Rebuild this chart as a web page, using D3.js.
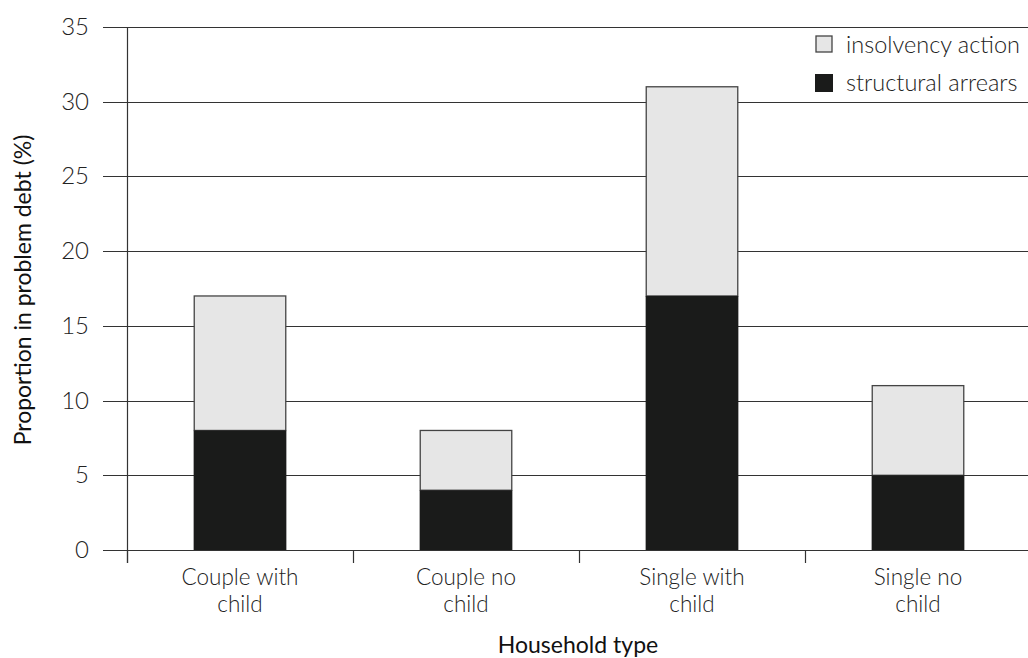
<!DOCTYPE html>
<html><head><meta charset="utf-8">
<script src="https://cdn.jsdelivr.net/npm/d3@7"></script>
<style>body{margin:0;background:#fff}svg{display:block}</style>
</head><body>
<svg id="c" width="1028" height="658"></svg>
<script>
const categories = [["Couple with","child"],["Couple no","child"],["Single with","child"],["Single no","child"]];
const structuralArrears = [8, 4, 17, 5];
const insolvencyAction = [9, 4, 14, 6];
const yTicks = [0,5,10,15,20,25,30,35];
const seriesNames = ["insolvency action","structural arrears"];

const svg = d3.select("#c");
const font = "Lato, 'Open Sans', sans-serif";
const x0 = 127, y0 = 550, yTop = 27;
const x = d3.scaleBand().domain(d3.range(categories.length)).range([x0, x0 + 4*226]).paddingInner(0).paddingOuter(0);
const y = d3.scaleLinear().domain([0,35]).range([y0, yTop]);

// gridlines
svg.append("g").selectAll("line").data(yTicks).join("line")
  .attr("x1", 103).attr("x2", 1028)
  .attr("y1", d => Math.round(y(d))+0.5).attr("y2", d => Math.round(y(d))+0.5)
  .attr("stroke", "#333").attr("stroke-width", 1.2);
// y tick labels
svg.append("g").selectAll("text").data(yTicks).join("text")
  .attr("x", 89).attr("y", d => y(d) + 8).attr("text-anchor","end")
  .attr("font-family", font).attr("font-weight", 300).attr("font-size", 24).attr("fill","#222")
  .text(d => d);
// y axis line
svg.append("line").attr("x1", x0+0.5).attr("x2", x0+0.5).attr("y1", yTop).attr("y2", 563)
  .attr("stroke","#333").attr("stroke-width",1.2);
// x ticks at band boundaries
const bounds = d3.range(categories.length+1).map(i => x0 + i*x.bandwidth());
svg.append("g").selectAll("line").data(bounds).join("line")
  .attr("x1", d => Math.round(d)+0.5).attr("x2", d => Math.round(d)+0.5)
  .attr("y1", y0).attr("y2", 563).attr("stroke","#333").attr("stroke-width",1.2);

const bw = x.bandwidth()*0.405;
const g = svg.append("g");
categories.forEach((c,i) => {
  const cx = x(i) + x.bandwidth()/2;
  const tot = structuralArrears[i] + insolvencyAction[i];
  g.append("rect").attr("x", cx - bw/2).attr("width", bw)
    .attr("y", y(tot)).attr("height", y(structuralArrears[i]) - y(tot))
    .attr("fill","#e6e6e6").attr("stroke","#444").attr("stroke-width",1.3);
  g.append("rect").attr("x", cx - bw/2 - 0.6).attr("width", bw + 1.2)
    .attr("y", y(structuralArrears[i])).attr("height", y(0) - y(structuralArrears[i]))
    .attr("fill","#1a1b1a");
  c.forEach((line,k) => g.append("text").attr("text-anchor","middle").attr("font-family", font)
    .attr("font-weight",300).attr("font-size",22.5).attr("fill","#222")
    .attr("x", cx).attr("y", 585 + k*27).text(line));
});

// axis titles
svg.append("text").attr("x", 578).attr("y", 653).attr("text-anchor","middle")
  .attr("font-family", font).attr("font-size", 23).attr("fill","#111").text("Household type");
svg.append("text").attr("transform","translate(31,290) rotate(-90)").attr("text-anchor","middle")
  .attr("font-family", font).attr("font-size", 23).attr("fill","#111").text("Proportion in problem debt (%)");

// legend
const lg = svg.append("g");
lg.append("rect").attr("x", 816).attr("y", 36).attr("width", 16).attr("height", 16)
  .attr("fill","#e6e6e6").attr("stroke","#444").attr("stroke-width",1.3);
lg.append("rect").attr("x", 815).attr("y", 74).attr("width", 18).attr("height", 18).attr("fill","#1a1b1a");
lg.append("text").attr("x", 846).attr("y", 53).attr("font-family", font).attr("font-weight",300)
  .attr("font-size", 23.5).attr("fill","#222").text(seriesNames[0]);
lg.append("text").attr("x", 846).attr("y", 91).attr("font-family", font).attr("font-weight",300)
  .attr("font-size", 23.5).attr("fill","#222").text(seriesNames[1]);
</script>
</body></html>
